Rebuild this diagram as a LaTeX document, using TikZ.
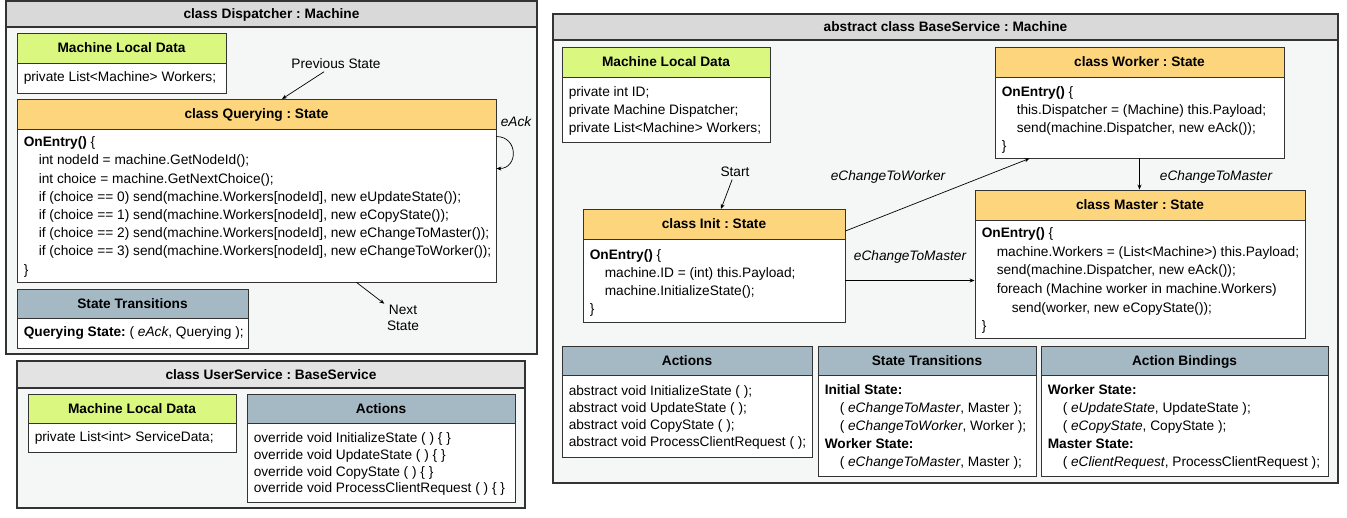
\documentclass[tikz,border=0pt]{standalone}
\usepackage{fontspec}
\setmainfont{Liberation Sans}
\usetikzlibrary{fit,calc,arrows.meta}
\frenchspacing
\definecolor{bd}{HTML}{333333}
\definecolor{outerbg}{HTML}{F5F6F6}
\definecolor{titlebg}{HTML}{D9D9D9}
\definecolor{titlebgl}{HTML}{E3E3E3}
\definecolor{greenh}{HTML}{DAF77F}
\definecolor{orangeh}{HTML}{FDD57C}
\definecolor{blueh}{HTML}{A4B9C3}
\newcommand\ind{\hspace*{15pt}}
\newcommand\ubox[8]{%
  \node[hbox, fill=#7, fit={(#2,#3)(#5,#4)}] (#1-h) {};
  \node[htxt] at ($(#1-h.center)+(0,4.8)$) {#8};
  \node[bbox, fit={(#2,#4)(#5,#6)}] (#1) {};
}
\tikzset{
  hbox/.style={draw=bd, line width=0.9pt, inner sep=0pt},
  htxt/.style={inner sep=0pt, anchor=base, font=\fontsize{13.7}{16}\selectfont\bfseries},
  bbox/.style={draw=bd, line width=0.9pt, fill=white, inner sep=0pt},
  outerbox/.style={draw=bd, line width=1.1pt, fill=outerbg, inner sep=0pt},
  ttl/.style={draw=bd, line width=1.1pt, fill=titlebg, inner sep=0pt},
  txt/.style={inner sep=0pt, anchor=north west, align=left, font=\fontsize{13.7}{#1}\selectfont},
  txt/.default=18,
  lbl/.style={inner sep=2.5pt, font=\fontsize{13.7}{16}\selectfont},
  ilbl/.style={inner sep=2.5pt, font=\fontsize{13.7}{16}\selectfont\itshape},
  arr/.style={draw=black, line width=0.7pt, -{Stealth[length=5pt,width=4pt]}},
}
\begin{document}
\begin{tikzpicture}[x=1pt,y=-1pt]
\useasboundingbox (0,0) rectangle (1347,518);
\fill[white] (0,0) rectangle (1347,518);
% ===== Dispatcher =====
\node[outerbox, fit={(6,27)(537,354)}] (disp) {};
\node[ttl, fit={(6,1)(537,27)}] (disp-t) {};
\node[htxt] at ($(disp-t.center)+(0,4.8)$) {class Dispatcher : Machine};
\ubox{m1}{17}{33}{63}{226}{93}{greenh}{Machine Local Data}
\node[txt, anchor=west] at ($(m1.west)+(7,0)$) {private List<Machine> Workers;};
\ubox{q}{17}{99}{129}{496}{282}{orangeh}{class Querying : State}
\node[txt=18.2] at ($(q.north west)+(7,8)$) {\textbf{OnEntry()} \{\\
\ind int nodeId = machine.GetNodeId();\\
\ind int choice = machine.GetNextChoice();\\
\ind if (choice == 0) send(machine.Workers[nodeId], new eUpdateState());\\
\ind if (choice == 1) send(machine.Workers[nodeId], new eCopyState());\\
\ind if (choice == 2) send(machine.Workers[nodeId], new eChangeToMaster());\\
\ind if (choice == 3) send(machine.Workers[nodeId], new eChangeToWorker());\\
\}};
\ubox{st1}{17}{289}{318}{248}{348}{blueh}{State Transitions}
\node[txt, anchor=west] at ($(st1.west)+(7,0)$) {\textbf{Querying State:} ( \textit{eAck}, Querying );};
\node[lbl] (prev) at (336,64) {Previous State};
\coordinate (prevend) at (282,99);
\draw[arr] (prev) -- (prevend);
\node[ilbl] (eack) at (516,122) {eAck};
\draw[arr] ($(q.north east)+(0,8)$) .. controls ($(q.north east)+(22,8)$) and ($(q.north east)+(22,40)$) .. ($(q.north east)+(0,40)$);
\node[lbl, align=center] (next) at (403,318) {Next\\State};
\coordinate (qbot) at ($(q.south west)+(340,0)$);
\draw[arr] (qbot) -- (next);
% ===== UserService =====
\node[outerbox, fit={(17,388)(525,508)}] (us) {};
\node[ttl, fill=titlebgl, fit={(17,361)(525,388)}] (us-t) {};
\node[htxt] at ($(us-t.center)+(0,4.8)$) {class UserService : BaseService};
\ubox{m2}{28}{394}{423}{236}{452}{greenh}{Machine Local Data}
\node[txt, anchor=west] at ($(m2.west)+(7,0)$) {private List<int> ServiceData;};
\ubox{a2}{247}{394}{423}{515}{502}{blueh}{Actions}
\node[txt=16.7] at ($(a2.north west)+(7,10)$) {override void InitializeState ( ) \{ \}\\
override void UpdateState ( ) \{ \}\\
override void CopyState ( ) \{ \}\\
override void ProcessClientRequest ( ) \{ \}};
% ===== BaseService =====
\node[outerbox, fit={(553,40)(1338,483)}] (bs) {};
\node[ttl, fit={(553,14)(1338,40)}] (bs-t) {};
\node[htxt] at ($(bs-t.center)+(0,4.8)$) {abstract class BaseService : Machine};
\ubox{m3}{562}{47}{77}{770}{142}{greenh}{Machine Local Data}
\node[txt] at ($(m3.north west)+(7,10)$) {private int ID;\\
private Machine Dispatcher;\\
private List<Machine> Workers;};
\ubox{worker}{995}{47}{77}{1284}{158}{orangeh}{class Worker : State}
\node[txt] at ($(worker.north west)+(7,10)$) {\textbf{OnEntry()} \{\\
\ind this.Dispatcher = (Machine) this.Payload;\\
\ind send(machine.Dispatcher, new eAck());\\
\}};
\ubox{init}{583}{209}{239}{845}{322}{orangeh}{class Init : State}
\node[txt] at ($(init.north west)+(7,11)$) {\textbf{OnEntry()} \{\\
\ind machine.ID = (int) this.Payload;\\
\ind machine.InitializeState();\\
\}};
\ubox{master}{975}{190}{220}{1305}{338}{orangeh}{class Master : State}
\node[txt=18.6] at ($(master.north west)+(7,8)$) {\textbf{OnEntry()} \{\\
\ind machine.Workers = (List<Machine>) this.Payload;\\
\ind send(machine.Dispatcher, new eAck());\\
\ind foreach (Machine worker in machine.Workers)\\
\ind\ind send(worker, new eCopyState());\\
\}};
\ubox{a3}{562}{346}{375}{812}{457}{blueh}{Actions}
\node[txt=17] at ($(a3.north west)+(7,11)$) {abstract void InitializeState ( );\\
abstract void UpdateState ( );\\
abstract void CopyState ( );\\
abstract void ProcessClientRequest ( );};
\ubox{st3}{818}{346}{375}{1036}{476}{blueh}{State Transitions}
\node[txt] at ($(st3.north west)+(7,10)$) {\textbf{Initial State:}\\
\ind ( \textit{eChangeToMaster}, Master );\\
\ind ( \textit{eChangeToWorker}, Worker );\\
\textbf{Worker State:}\\
\ind ( \textit{eChangeToMaster}, Master );};
\ubox{ab}{1041}{346}{375}{1328}{476}{blueh}{Action Bindings}
\node[txt] at ($(ab.north west)+(7,10)$) {\textbf{Worker State:}\\
\ind ( \textit{eUpdateState}, UpdateState );\\
\ind ( \textit{eCopyState}, CopyState );\\
\textbf{Master State:}\\
\ind ( \textit{eClientRequest}, ProcessClientRequest );};
% connectors
\node[lbl] (start) at (735,172) {Start};
\coordinate (startend) at (721,209);
\draw[arr] (start) -- (startend);
\node[ilbl] (ctw) at (888,177) {eChangeToWorker};
\coordinate (initw) at ($(init-h.east)+(0,7)$);
\coordinate (workerend) at ($(worker.south west)+(35,0)$);
\draw[arr] (initw) -- (workerend);
\node[ilbl] (ctm1) at (910,257) {eChangeToMaster};
\draw[arr] (init.east) -- (init.east -| master.west);
\node[ilbl] (ctm2) at (1216,177) {eChangeToMaster};
\draw[arr] (worker.south) -- (worker.south |- master-h.north);
\end{tikzpicture}
\end{document}
